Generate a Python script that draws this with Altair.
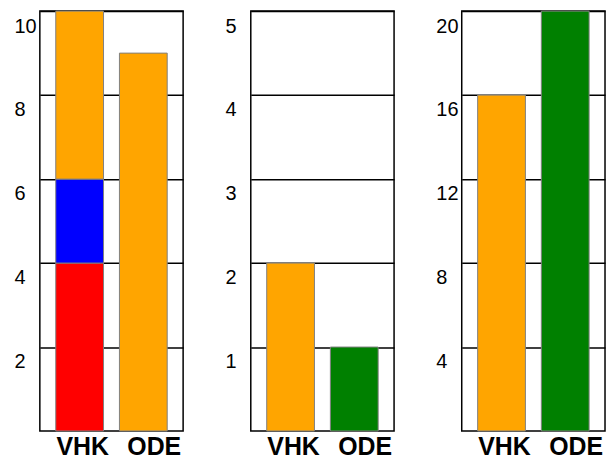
import altair as alt
import pandas as pd

categories = ["VHK", "ODE"]

# Panel 1: VHK is a stacked bar (bottom -> top), ODE a single bar
p1_vhk_segments = [4, 2, 4]
p1_vhk_colors = ["#FF0000", "#0000FF", "#FFA500"]
p1_ode_value = 9
p1_ode_color = "#FFA500"

# Panel 2
p2_values = [2, 1]
p2_colors = ["#FFA500", "#008000"]

# Panel 3
p3_values = [16, 20]
p3_colors = ["#FFA500", "#008000"]

y_max = [10, 5, 20]
y_ticks = [[2, 4, 6, 8, 10], [1, 2, 3, 4, 5], [4, 8, 12, 16, 20]]


def rows_p1():
    rows = []
    base = 0
    for v, c in zip(p1_vhk_segments, p1_vhk_colors):
        rows.append({"cat": "VHK", "start": base, "end": base + v, "color": c})
        base += v
    rows.append({"cat": "ODE", "start": 0, "end": p1_ode_value, "color": p1_ode_color})
    return pd.DataFrame(rows)


def rows_simple(values, colors):
    return pd.DataFrame(
        [{"cat": k, "start": 0, "end": v, "color": c} for k, v, c in zip(categories, values, colors)]
    )


def panel(df, ymax, ticks):
    return (
        alt.Chart(df)
        .mark_bar(stroke="#808080", strokeWidth=1)
        .encode(
            x=alt.X(
                "cat:N",
                sort=categories,
                scale=alt.Scale(paddingInner=0.25, paddingOuter=0.25),
                axis=alt.Axis(
                    title=None,
                    labelAngle=0,
                    labelFont="Liberation Sans",
                    labelFontSize=25,
                    labelFontWeight="bold",
                    labelColor="black",
                    ticks=False,
                    domain=False,
                    labelPadding=4,
                    labelOffset={"condition": {"test": "datum.value == 'ODE'", "value": 11}, "value": 3},
                ),
            ),
            y=alt.Y(
                "start:Q",
                scale=alt.Scale(domain=[0, ymax], nice=False),
                axis=alt.Axis(
                    values=ticks,
                    title=None,
                    grid=True,
                    gridColor="black",
                    gridWidth=1.5,
                    gridOpacity=1,
                    ticks=False,
                    domain=False,
                    labelAlign="left",
                    labelPadding=26,
                    labelBaseline="top",
                    labelOffset=5,
                    labelFontSize=20,
                    labelFont="Liberation Sans",
                    labelColor="black",
                ),
            ),
            y2="end:Q",
            color=alt.Color("color:N", scale=None),
        )
        .properties(width=144, height=422)
    )


chart = (
    alt.hconcat(
        panel(rows_p1(), y_max[0], y_ticks[0]),
        panel(rows_simple(p2_values, p2_colors), y_max[1], y_ticks[1]),
        panel(rows_simple(p3_values, p3_colors), y_max[2], y_ticks[2]),
        spacing=40,
    )
    .properties(padding={"left": 5, "top": 0, "right": 2, "bottom": 0}, background="white")
    .configure_view(stroke="black", strokeWidth=1.5)
)

chart.save("out.html", embed_options={"renderer": "svg", "actions": False})
